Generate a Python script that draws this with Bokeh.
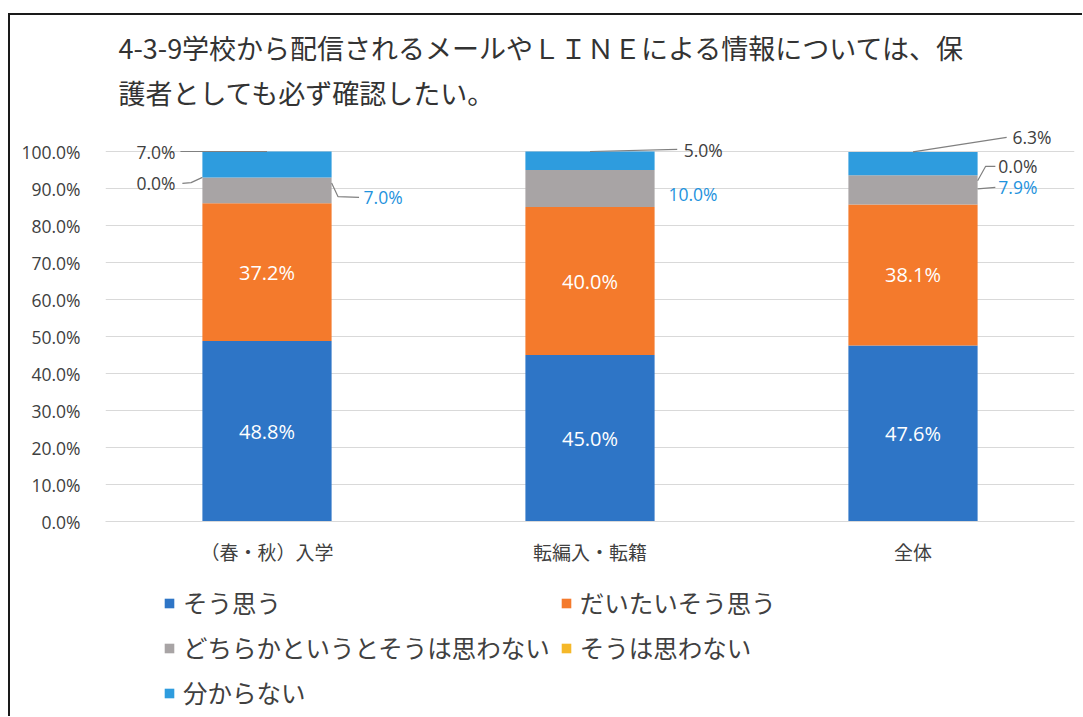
from bokeh.plotting import figure
from bokeh.layouts import column
from bokeh.models import (FactorRange, Range1d, FixedTicker, PrintfTickFormatter,
                          Legend, LegendItem, Label, ColumnDataSource)
from bokeh.core.properties import value
from bokeh.embed import file_html
from bokeh.resources import INLINE

# ---------------- data ----------------
title_line1 = "4-3-9学校から配信されるメールやＬＩＮＥによる情報については、保"
title_line2 = "護者としても必ず確認したい。"
categories = ["（春・秋）入学", "転編入・転籍", "全体"]
series_names = ["そう思う", "だいたいそう思う", "どちらかというとそうは思わない",
                "そうは思わない", "分からない"]
sou_omou = [48.8, 45.0, 47.6]
daitai = [37.2, 40.0, 38.1]
dochiraka = [7.0, 10.0, 7.9]
souwa_omowanai = [0.0, 0.0, 0.0]
wakaranai = [7.0, 5.0, 6.3]
y_ticks = [0, 10, 20, 30, 40, 50, 60, 70, 80, 90, 100]

colors = ["#2E75C6", "#F47A2C", "#A8A4A5", "#F5B829", "#2E9CDE"]
keys = ["s0", "s1", "s2", "s3", "s4"]
series = [sou_omou, daitai, dochiraka, souwa_omowanai, wakaranai]

JP = "Noto Sans CJK JP"
NUM = "Open Sans"
TXT = "#404040"
LBLUE = "#1F93DD"
LEAD = "#808080"

W = 1072

src = ColumnDataSource(dict(cat=categories, **{k: v for k, v in zip(keys, series)}))

p = figure(x_range=FactorRange(*categories), y_range=Range1d(0, 136.76),
           width=W, height=560, output_backend="svg", toolbar_location=None,
           min_border_left=95, min_border_right=8, min_border_top=0,
           min_border_bottom=54)
p.outline_line_color = None
p.background_fill_color = "white"

renderers = p.vbar_stack(keys, x="cat", width=0.4, color=colors, source=src,
                         line_color=None)

# axes
p.yaxis.ticker = FixedTicker(ticks=y_ticks)
p.yaxis.formatter = PrintfTickFormatter(format="%.1f%%")
p.yaxis.axis_line_color = None
p.yaxis.major_tick_line_color = None
p.yaxis.minor_tick_line_color = None
p.yaxis.major_label_standoff = 19
p.yaxis.major_label_text_font = NUM
p.yaxis.major_label_text_font_size = "17.5px"
p.yaxis.major_label_text_color = TXT

p.xaxis.axis_line_color = "#D9D9D9"
p.xaxis.major_tick_line_color = None
p.xaxis.minor_tick_line_color = None
p.xaxis.major_label_standoff = 10
p.xaxis.major_label_text_font = JP
p.xaxis.major_label_text_font_size = "19px"
p.xaxis.major_label_text_color = TXT

p.xgrid.grid_line_color = None
p.ygrid.grid_line_color = "#D9D9D9"
p.ygrid.ticker = FixedTicker(ticks=y_ticks)

# inside labels (white) for first two series
in_x, in_y, in_t = [], [], []
for i, c in enumerate(categories):
    base = 0.0
    for si in range(2):
        v = series[si][i]
        in_x.append(i + 0.5)
        in_y.append(base + v / 2)
        in_t.append(f"{v:.1f}%")
        base += v
p.text(x=in_x, y=in_y, text=in_t, text_align="center", text_baseline="middle",
       text_color="white", text_font=value(NUM), text_font_size=value("20px"))

# outside labels with leader lines
def stack_top(i, upto):
    return sum(series[s][i] for s in range(upto + 1))

out_x, out_y, out_t, out_a, out_c = [], [], [], [], []
lead_xs, lead_ys = [], []

def add(i, si, dx, ly, align, col, pts):
    out_x.append(i + 0.5 + dx)
    out_y.append(ly)
    out_t.append(f"{series[si][i]:.1f}%")
    out_a.append(align)
    out_c.append(col)
    if pts:
        lead_xs.append([i + 0.5 + px for px, _ in pts])
        lead_ys.append([py for _, py in pts])

# bar 1
t = stack_top(0, 4)
add(0, 4, -0.283, 100.0, "right", TXT, [(-0.268, 100.0), (0.0, t)])
t = stack_top(0, 3)
add(0, 3, -0.283, 91.4, "right", TXT, [(-0.262, 91.4), (-0.235, 91.6), (-0.2, t)])
add(0, 2, 0.299, 87.6, "left", LBLUE, [(0.2, stack_top(0, 2) - 1.5), (0.22, 87.8), (0.285, 87.6)])
# bar 2
t = stack_top(1, 4)
add(1, 4, 0.29, 100.5, "left", TXT, [(0.0, t), (0.27, 100.6)])
add(1, 2, 0.243, 88.4, "left", LBLUE, None)
# bar 3
t = stack_top(2, 4)
add(2, 4, 0.308, 103.8, "left", TXT, [(0.0, t), (0.29, 103.8)])
t = stack_top(2, 3)
add(2, 3, 0.264, 96.0, "left", TXT, [(0.2, t - 1.5), (0.225, 96.0), (0.255, 96.0)])
add(2, 2, 0.264, 90.3, "left", LBLUE, [(0.2, 89.9), (0.255, 90.3)])

p.multi_line(xs=lead_xs, ys=lead_ys, line_color=LEAD, line_width=1.2)
p.text(x=out_x, y=out_y, text=out_t, text_align=out_a, text_baseline="middle",
       text_color=out_c, text_font=value(NUM), text_font_size=value("17.5px"))

# title
p.add_layout(Label(x=0.04, y=128.1, text=title_line1, text_font=JP,
                   text_font_size="27px", text_color="#333333",
                   text_baseline="middle"))
p.add_layout(Label(x=0.04, y=115.9, text=title_line2, text_font=JP,
                   text_font_size="27px", text_color="#333333",
                   text_baseline="middle"))

# legend figure (below the chart); swatch renderers have zero size
q = figure(width=W, height=141, output_backend="svg", toolbar_location=None,
           x_range=Range1d(0, 1), y_range=Range1d(0, 1),
           x_axis_location=None, y_axis_location=None,
           min_border_left=0, min_border_right=0, min_border_top=0,
           min_border_bottom=0)
q.outline_line_color = None
q.grid.visible = False
legend_renderers = [q.vbar(x=[0.5], top=[0], bottom=[0], width=0, color=c,
                           line_color=None)
                    for c in colors]
legend = Legend(items=[LegendItem(label=n, renderers=[r])
                       for n, r in zip(series_names, legend_renderers)],
                orientation="horizontal", ncols=2, location=(58, 6),
                label_text_font=JP, label_text_font_size="24.5px",
                label_text_color=TXT, glyph_width=12, glyph_height=12,
                label_height=30, label_standoff=8, spacing=10, padding=0,
                margin=0, border_line_color=None, background_fill_alpha=0)
q.add_layout(legend, "center")

layout = column(p, q, spacing=0)
layout.styles = {"border-top": "2px solid #1a1a1a", "border-left": "2px solid #1a1a1a",
                 "margin-top": "13px", "margin-left": "8px"}

open("out.html", "w").write(file_html(layout, INLINE))
